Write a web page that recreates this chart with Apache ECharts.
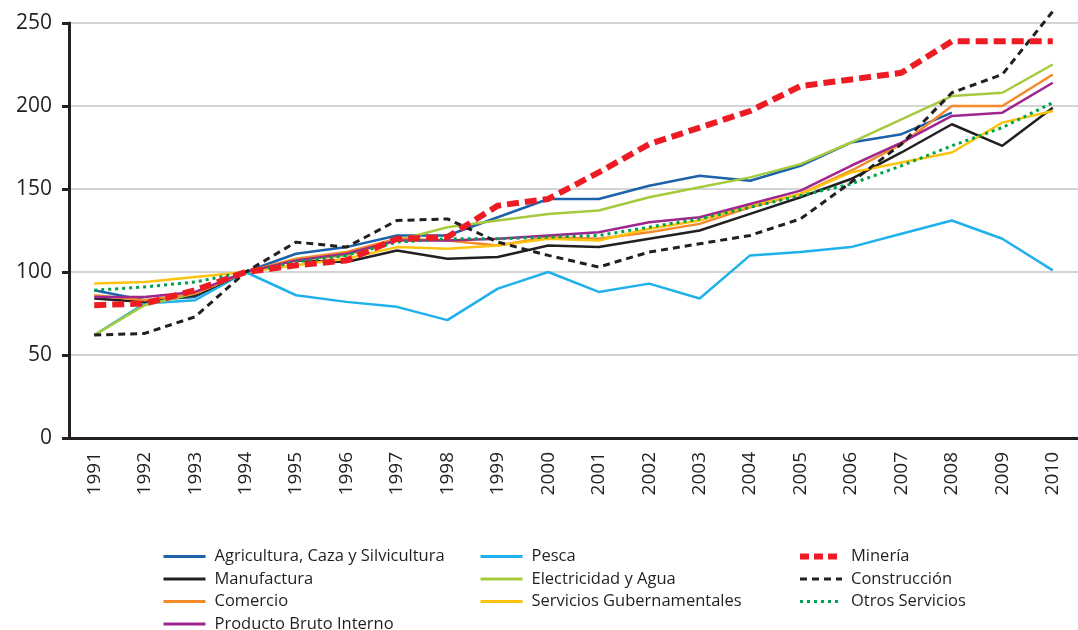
<!DOCTYPE html>
<html>
<head>
<meta charset="utf-8">
<script src="https://cdn.jsdelivr.net/npm/echarts@6/dist/echarts.min.js"></script>
<style>
html, body { margin: 0; padding: 0; background: #fff; }
#chart { width: 1078px; height: 630px; }
</style>
</head>
<body>
<div id="chart"></div>
<script>
var years = ['1991', '1992', '1993', '1994', '1995', '1996', '1997', '1998', '1999', '2000',
	'2001', '2002', '2003', '2004', '2005', '2006', '2007', '2008', '2009', '2010'];

var agricultura = [89, 83, 85, 100, 111, 115, 122, 122, 133, 144, 144, 152, 158, 155, 164, 178, 183, 196, null, null];
var pesca = [62, 81, 83, 100, 86, 82, 79, 71, 90, 100, 88, 93, 84, 110, 112, 115, 123, 131, 120, 101];
var mineria = [80, 81, 89, 100, 104, 107, 120, 121, 140, 144, 160, 177, 187, 197, 212, 216, 220, 239, 239, 239];
var manufactura = [84, 82, 86, 100, 107, 106, 113, 108, 109, 116, 115, 120, 125, 135, 145, 156, 172, 189, 176, 199];
var electricidad = [62, 80, 87, 100, 107, 110, 119, 127, 131, 135, 137, 145, 151, 157, 165, 178, 192, 206, 208, 225];
var construccion = [62, 63, 73, 100, 118, 115, 131, 132, 118, 110, 103, 112, 117, 122, 132, 154, 177, 208, 219, 257];
var comercio = [86, 83, 87, 100, 108, 112, 120, 119, 116, 121, 120, 124, 129, 139, 147, 161, 177, 200, 200, 219];
var serviciosGub = [93, 94, 97, 100, 104, 108, 115, 114, 116, 120, 119, 126, 131, 140, 147, 160, 166, 172, 190, 197];
var otrosServicios = [89, 91, 94, 100, 106, 110, 118, 120, 120, 121, 122, 127, 132, 139, 146, 153, 164, 176, 187, 202];
var pbi = [85, 85, 88, 100, 107, 111, 119, 119, 120, 122, 124, 130, 133, 141, 149, 164, 178, 194, 196, 214];

var yTicks = [0, 50, 100, 150, 200, 250];

var txt = '#231f20';
var font = '"Open Sans", "Noto Sans", sans-serif';

function lineSeries(name, data, color, width, type, z) {
	return {
		name: name,
		type: 'line',
		data: data,
		symbol: 'none',
		z: z || 2,
		clip: false,
		lineStyle: { color: color, width: width, type: type || 'solid', cap: 'butt' },
		itemStyle: { color: color },
		emphasis: { disabled: true }
	};
}

// one vertical legend per column
function legendCol(left, names) {
	return {
		orient: 'vertical',
		left: left,
		top: 548,
		height: 120,
		padding: 0,
		icon: 'inherit',
		itemWidth: 42,
		itemHeight: 14,
		itemGap: 5.5,
		itemStyle: { opacity: 0 },
		lineStyle: { width: 3 },
		textStyle: { color: txt, fontSize: 16.5, fontFamily: font, padding: [0, 0, 0, 4] },
		data: names
	};
}

var myChart = echarts.init(document.getElementById('chart'));
var option = {
	animation: false,
	grid: {
		left: 69,
		top: 23,
		width: 1016,
		bottom: 192
	},
	legend: [
		legendCol(162, ['Agricultura, Caza y Silvicultura', 'Manufactura', 'Comercio', 'Producto Bruto Interno']),
		legendCol(479, ['Pesca', 'Electricidad y Agua', 'Servicios Gubernamentales']),
		legendCol(797, [{ name: 'Minería', lineStyle: { width: 6, type: [9, 5] } }, 'Construcción', 'Otros Servicios'])
	],
	xAxis: {
		type: 'category',
		data: years,
		boundaryGap: true,
		axisLine: { lineStyle: { color: txt, width: 3 } },
		axisTick: { length: 8, lineStyle: { color: txt, width: 3 } },
		axisLabel: { rotate: 90, margin: 14, color: txt, fontSize: 19, fontFamily: font },
		splitLine: { show: false }
	},
	yAxis: {
		type: 'value',
		min: yTicks[0],
		max: yTicks[yTicks.length - 1],
		interval: 50,
		axisLine: { show: true, lineStyle: { color: txt, width: 3 } },
		axisTick: { show: true, length: 7, lineStyle: { color: txt, width: 3 } },
		axisLabel: { margin: 17, color: txt, fontSize: 21, fontFamily: font },
		splitLine: { lineStyle: { color: '#c6c6c6', width: 1.5 } }
	},
	series: [
		lineSeries('Agricultura, Caza y Silvicultura', agricultura, '#1b62ab', 2.5),
		lineSeries('Pesca', pesca, '#1eb1ec', 2.5),
		lineSeries('Minería', mineria, '#ed1c24', 6, [12, 6], 5),
		lineSeries('Manufactura', manufactura, '#231f20', 2.5),
		lineSeries('Electricidad y Agua', electricidad, '#a5ca3e', 2.5),
		lineSeries('Construcción', construccion, '#231f20', 3, [7, 5], 4),
		lineSeries('Comercio', comercio, '#f58a2a', 2.5),
		lineSeries('Servicios Gubernamentales', serviciosGub, '#fdc30f', 2.5),
		lineSeries('Otros Servicios', otrosServicios, '#00a14b', 3, [3, 4], 3),
		lineSeries('Producto Bruto Interno', pbi, '#a0268f', 2.5)
	]
};
myChart.setOption(option);
</script>
</body>
</html>
